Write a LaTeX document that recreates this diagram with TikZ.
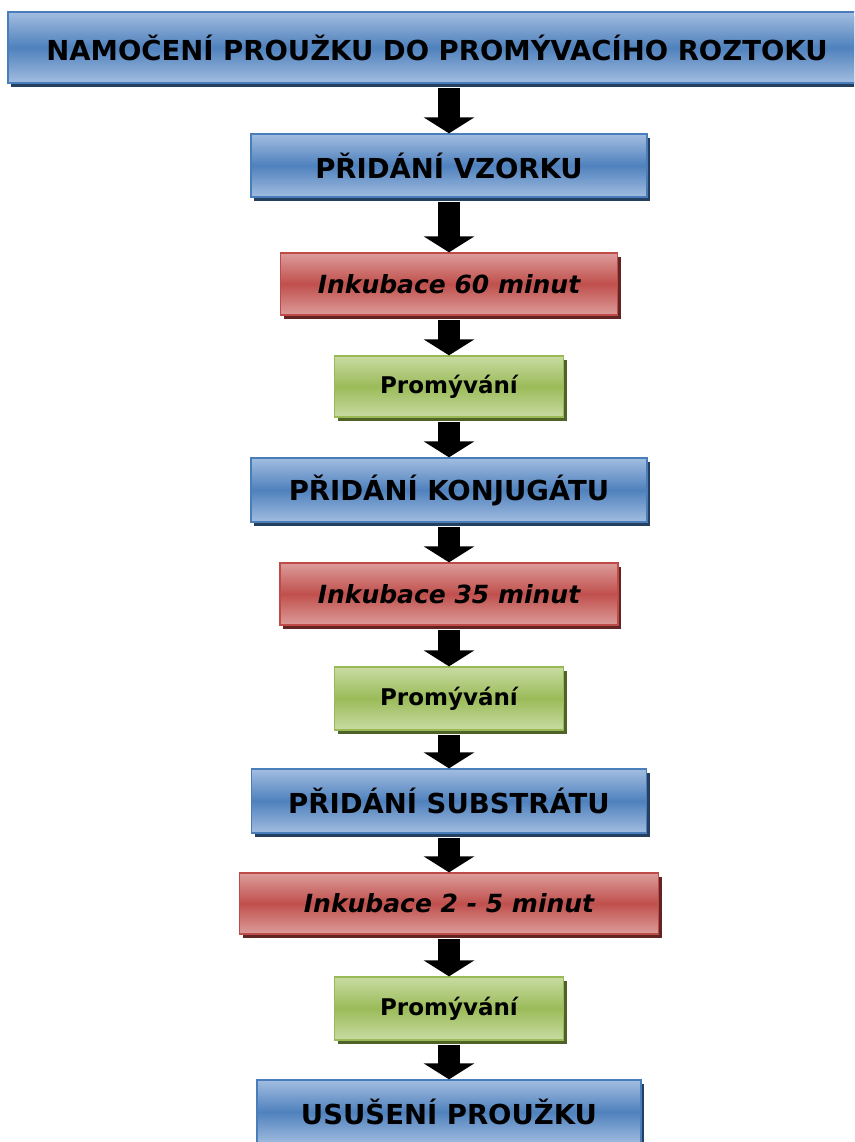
\documentclass[tikz,border=0pt]{standalone}
\usepackage{fontspec}
\setmainfont{DejaVu Sans}
\usetikzlibrary{shadows,arrows.meta}
\usepackage{xcolor}

\definecolor{blueLight}{HTML}{A2BDE0}
\definecolor{blueMid}{HTML}{4F81BD}
\definecolor{blueEdge}{HTML}{4A7EBB}
\definecolor{blueDark}{HTML}{243F60}
\definecolor{redLight}{HTML}{DC9C9A}
\definecolor{redMid}{HTML}{C0504D}
\definecolor{redEdge}{HTML}{BE4B48}
\definecolor{redDark}{HTML}{632523}
\definecolor{greenLight}{HTML}{C8DBA3}
\definecolor{greenMid}{HTML}{9BBB59}
\definecolor{greenEdge}{HTML}{98B954}
\definecolor{greenDark}{HTML}{4F6228}

\begin{document}
\begin{tikzpicture}[
    x=1pt, y=-1pt,
    every node/.style={font=\bfseries},
    stepbase/.style={
        rectangle,
        line width=1.3pt,
        inner sep=0pt,
        align=center
    },
    bluebox/.style={
        stepbase,
        draw=blueEdge,
        top color=blueLight, bottom color=blueLight, middle color=blueMid,
        drop shadow={shadow xshift=3pt, shadow yshift=-4pt, fill=blueDark, opacity=1},
        font=\bfseries\fontsize{27.5}{32}\selectfont
    },
    redbox/.style={
        stepbase,
        draw=redEdge,
        top color=redLight, bottom color=redLight, middle color=redMid,
        drop shadow={shadow xshift=3pt, shadow yshift=-4pt, fill=redDark, opacity=1},
        font=\bfseries\itshape\fontsize{25}{30}\selectfont
    },
    greenbox/.style={
        stepbase,
        draw=greenEdge,
        top color=greenLight, bottom color=greenLight, middle color=greenMid,
        drop shadow={shadow xshift=3pt, shadow yshift=-4pt, fill=greenDark, opacity=1},
        font=\bfseries\fontsize{23}{28}\selectfont
    },
    flow/.style={
        line width=22pt,
        shorten <=4pt,
        -{Triangle[width=50pt, length=16pt]}
    }
]

\useasboundingbox (0, 0) rectangle (854, 1142);
\clip (0, 0) rectangle (854, 1142);

% Steps of the procedure
\node[bluebox, minimum width=858pt, minimum height=71pt] (soak) at (437, 47.5)
    {NAMOČENÍ PROUŽKU DO PROMÝVACÍHO ROZTOKU};

\node[bluebox, minimum width=396pt, minimum height=63pt] (sample) at (449, 165.5)
    {PŘIDÁNÍ VZORKU};

\node[redbox, minimum width=337pt, minimum height=62pt] (inc1) at (449, 284)
    {Inkubace 60 minut};

\node[greenbox, minimum width=229pt, minimum height=61pt] (wash1) at (449, 386.5)
    {Promývání};

\node[bluebox, minimum width=396pt, minimum height=64pt] (conj) at (449, 490)
    {PŘIDÁNÍ KONJUGÁTU};

\node[redbox, minimum width=338pt, minimum height=62pt] (inc2) at (449, 594)
    {Inkubace 35 minut};

\node[greenbox, minimum width=229pt, minimum height=63pt] (wash2) at (449, 698.5)
    {Promývání};

\node[bluebox, minimum width=395pt, minimum height=64pt] (subst) at (449, 801)
    {PŘIDÁNÍ SUBSTRÁTU};

\node[redbox, minimum width=419pt, minimum height=61pt] (inc3) at (449, 903.5)
    {Inkubace 2 - 5 minut};

\node[greenbox, minimum width=229pt, minimum height=63pt] (wash3) at (449, 1008.5)
    {Promývání};

\node[bluebox, minimum width=384pt, minimum height=64pt] (dry) at (449, 1112)
    {USUŠENÍ PROUŽKU};

% Arrows between steps
\draw[flow] (soak.south -| sample.north) -- (sample);
\foreach \a/\b in {sample/inc1, inc1/wash1, wash1/conj, conj/inc2,
                   inc2/wash2, wash2/subst, subst/inc3, inc3/wash3, wash3/dry} {
    \draw[flow] (\a) -- (\b);
}

\end{tikzpicture}
\end{document}
